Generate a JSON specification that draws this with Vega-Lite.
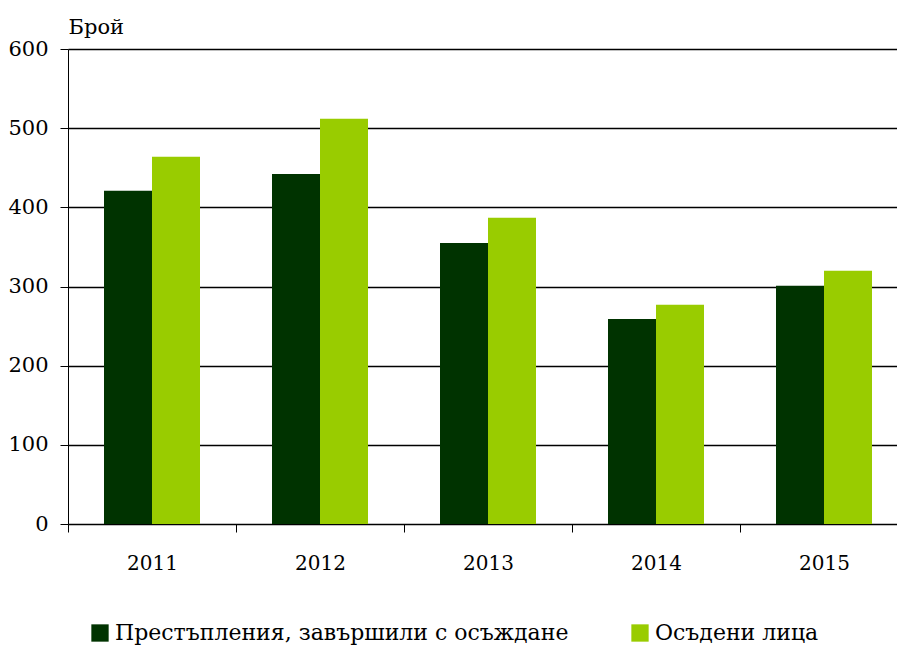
{
  "$schema": "https://vega.github.io/schema/vega-lite/v6.json",
  "width": 840,
  "height": 475,
  "autosize": "none",
  "padding": {"left": 68, "top": 49, "right": 0, "bottom": 125},
  "background": "white",
  "config": {
    "font": "DejaVu Serif",
    "view": {"stroke": null}
  },
  "data": {
    "values": [
      {"year": "2011", "series": "Престъпления, завършили с осъждане", "value": 421},
      {"year": "2011", "series": "Осъдени лица", "value": 464},
      {"year": "2012", "series": "Престъпления, завършили с осъждане", "value": 442},
      {"year": "2012", "series": "Осъдени лица", "value": 512},
      {"year": "2013", "series": "Престъпления, завършили с осъждане", "value": 355},
      {"year": "2013", "series": "Осъдени лица", "value": 387},
      {"year": "2014", "series": "Престъпления, завършили с осъждане", "value": 259},
      {"year": "2014", "series": "Осъдени лица", "value": 277},
      {"year": "2015", "series": "Престъпления, завършили с осъждане", "value": 301},
      {"year": "2015", "series": "Осъдени лица", "value": 320}
    ]
  },
  "mark": {"type": "bar"},
  "encoding": {
    "x": {
      "field": "year",
      "type": "nominal",
      "scale": {"paddingInner": 0, "paddingOuter": 0},
      "axis": {
        "title": null,
        "labelAngle": 0,
        "tickBand": "extent",
        "tickSize": 8,
        "tickColor": "black",
        "domainColor": "black",
        "labelFont": "DejaVu Serif",
        "labelFontSize": 20,
        "labelColor": "black",
        "labelPadding": 21,
        "grid": false
      }
    },
    "xOffset": {
      "field": "series",
      "type": "nominal",
      "sort": ["Престъпления, завършили с осъждане", "Осъдени лица"],
      "scale": {"paddingInner": 0, "paddingOuter": 0.75}
    },
    "y": {
      "field": "value",
      "type": "quantitative",
      "scale": {"domain": [0, 600]},
      "axis": {
        "values": [0, 100, 200, 300, 400, 500, 600],
        "title": "Брой",
        "titleAngle": 0,
        "titleAlign": "left",
        "titleBaseline": "bottom",
        "titleX": 0,
        "titleY": -12,
        "titleFont": "DejaVu Serif",
        "titleFontSize": 21,
        "titleFontWeight": "normal",
        "titleColor": "black",
        "labelFont": "DejaVu Serif",
        "labelFontSize": 21,
        "labelColor": "black",
        "labelPadding": 12,
        "tickSize": 8,
        "tickColor": "black",
        "domainColor": "black",
        "gridColor": "black",
        "gridWidth": 1.5,
        "gridOpacity": 1
      }
    },
    "color": {
      "field": "series",
      "type": "nominal",
      "sort": ["Престъпления, завършили с осъждане", "Осъдени лица"],
      "scale": {"range": ["#003300", "#99CC00"]},
      "legend": {
        "title": null,
        "orient": "bottom",
        "direction": "horizontal",
        "symbolType": "square",
        "symbolSize": 300,
        "symbolStrokeWidth": 0,
        "labelFont": "DejaVu Serif",
        "labelFontSize": 22,
        "labelColor": "black",
        "labelLimit": 600,
        "columnPadding": 60,
        "padding": 21,
        "offset": 28
      }
    }
  }
}
